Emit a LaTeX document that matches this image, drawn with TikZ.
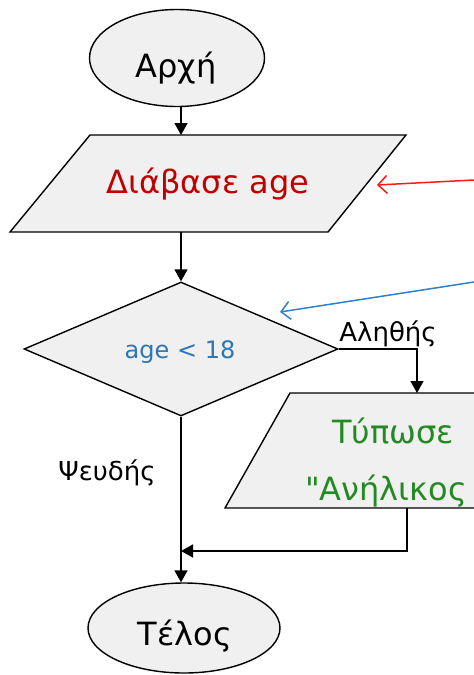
\documentclass[tikz,border=0pt]{standalone}
\usepackage{fontspec}
\setmainfont{DejaVu Sans}
\newfontfamily\rawfont{DejaVu Sans}
\usetikzlibrary{shapes.geometric,arrows.meta}
\definecolor{shapefill}{HTML}{F0F0F0}
\definecolor{readred}{HTML}{C00000}
\definecolor{condblue}{HTML}{2E75B6}
\definecolor{printgreen}{HTML}{238A23}
\definecolor{notered}{HTML}{FF1A1A}
\definecolor{noteblue}{HTML}{2F80D0}
\begin{document}
\begin{tikzpicture}[x=1pt,y=-1pt,
  box/.style={draw=black, line width=1.4pt, fill=shapefill},
  term/.style={box, ellipse, inner sep=0pt},
  cond/.style={box, diamond, inner sep=0pt, minimum width=314pt, minimum height=134pt},
  txt/.style={inner sep=0pt},
  big/.style={font=\fontsize{32}{36}\selectfont},
  mid/.style={font=\fontsize{26}{30}\selectfont},
  small/.style={font=\fontsize{24}{28}\selectfont},
  arr/.style={line width=1.6pt, -{Triangle[length=12pt,width=13pt]}},
  note/.style={line width=1.5pt, -{Straight Barb[length=9pt,width=18pt]}}
]
\useasboundingbox (0,0) rectangle (474,675);
\fill[white] (0,0) rectangle (474,675);
\clip (0,0) rectangle (474,675);

% start
\node[term, minimum width=175pt, minimum height=97pt] (start) at (177,58) {};
\node[txt, big, anchor=base] (starttxt) at (176,77) {Αρχή};

% read
\path[box] (90,135) -- (406,135) -- (328,232) -- (10,232) -- cycle;
\node[txt, big, text=readred, anchor=base] (read) at (208,193) {Διάβασε age};
\coordinate (p1n) at (181,135);
\coordinate (p1s) at (181,232);

% condition
\node[cond] (cond) at (181,349) {};
\node[txt, small, text=condblue, anchor=base] (condtxt) at (180,358) {age < 18};

% print
\path[box] (290,393) -- (560,393) -- (495,508) -- (225,508) -- cycle;
\node[txt, big, text=printgreen, anchor=base] (pr1) at (393,443) {Τύπωσε};
\node[txt, big, text=printgreen, anchor=base east] (pr2) at (467,500) {\rawfont"Ανήλικος};
\coordinate (p2n) at (417,393);
\coordinate (p2s) at (407,508);

% stop
\node[term, minimum width=192pt, minimum height=90pt] (stop) at (184,628) {};
\node[txt, big, anchor=base] (stoptxt) at (185,645) {Τέλος};

\coordinate (join) at (181,551);

% labels
\node[txt, mid, anchor=base] (yes) at (388,341) {Αληθής};
\node[txt, mid, anchor=base] (no) at (107,480) {Ψευδής};

% connectors
\draw[arr] (start.south -| p1n) -- (p1n);
\draw[arr] (p1s) -- (cond.north);
\draw[arr] (cond.east) -| (p2n);
\draw[arr] (cond.south) -- (cond.south |- stop.north);
\draw[arr] (p2s) |- (join);

% notes
\coordinate (rs) at (474,180);
\coordinate (re) at (377,185);
\draw[note, draw=notered] (rs) -- (re);
\coordinate (bs) at (474,282);
\coordinate (be) at (280,312);
\draw[note, draw=noteblue] (bs) -- (be);
\end{tikzpicture}
\end{document}
